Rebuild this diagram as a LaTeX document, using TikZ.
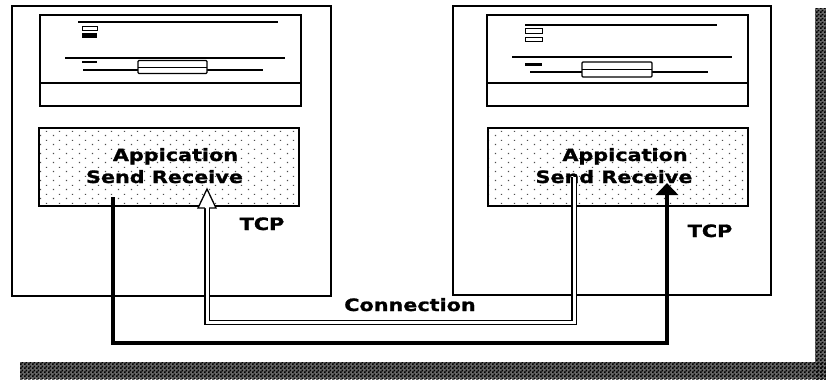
\documentclass[tikz,border=0pt]{standalone}
\usepackage{fontspec}
\newfontfamily\lblfont{DejaVu Sans}[FakeStretch=1.22, BoldFeatures={FakeBold=1.2}]
\usetikzlibrary{arrows.meta,patterns}

% dark dithered fill for the base and side bars
\pgfdeclarepatternformonly{finechecker}{\pgfpointorigin}{\pgfpoint{4pt}{4pt}}{\pgfpoint{4pt}{4pt}}%
{\pgfpathrectangle{\pgfpointorigin}{\pgfpoint{2pt}{2pt}}%
 \pgfpathrectangle{\pgfpoint{2pt}{2pt}}{\pgfpoint{2pt}{2pt}}%
 \pgfusepath{fill}}
% sparse stipple for the application layer
\pgfdeclarepatternformonly{stipple}{\pgfpointorigin}{\pgfpoint{13pt}{9pt}}{\pgfpoint{13pt}{9pt}}%
{\pgfpathrectangle{\pgfpoint{1pt}{1pt}}{\pgfpoint{1.3pt}{1.3pt}}%
 \pgfpathrectangle{\pgfpoint{7.5pt}{5.5pt}}{\pgfpoint{1.3pt}{1.3pt}}%
 \pgfusepath{fill}}

\tikzset{
  hostbox/.style={draw, line width=2pt},
  panel/.style={draw, line width=1.8pt},
  trim/.style={line width=1.4pt},
  slot/.style={draw, line width=1.2pt, rounded corners=1pt, fill=white},
  applayer/.style={draw, line width=2pt, pattern=stipple, pattern color=black!70,
                   minimum width=260pt, minimum height=78pt, inner sep=0pt},
  lbl/.style={font=\lblfont\bfseries\fontsize{17}{20}\selectfont, inner sep=0pt, anchor=base},
  sendline/.style={line width=4.5pt, -{Triangle[length=12pt,width=22pt]}},
  recvline/.style={line width=1.3pt, double=white, double distance=3pt},
  recvhead/.style={line width=1.3pt, fill=white, line join=miter},
  barbase/.style={fill=black!60},
  bar/.style={pattern=finechecker, pattern color=black},
}

\begin{document}
\begin{tikzpicture}[x=1pt,y=-1pt]
\useasboundingbox (0,0) rectangle (826,380);

% shaded base and side bars
\fill[barbase] (20,362) rectangle (826,379);
\fill[barbase] (815,8) rectangle (826,379);
\fill[bar] (20,362) rectangle (826,379);
\fill[bar] (815,8) rectangle (826,379);

% ---------- host A ----------
\node[hostbox, minimum width=319pt, minimum height=290pt, inner sep=0pt] (hostA) at (171.5,151) {};
\node[panel, minimum width=261pt, minimum height=91pt, inner sep=0pt] (driveA) at (170.5,60.5) {};
\draw[panel] (40,83) -- (301,83);
\draw[trim] (78,22) -- (278,22);
\draw[line width=1pt] (82,26) rectangle (97,30.5);
\fill (82,33) rectangle (97,37.5);
\draw[trim] (65,58) -- (285,58);
\fill (82,61) rectangle (97,63);
\draw[line width=2.4pt] (83,70) -- (263,70);
\node[slot, minimum width=69pt, minimum height=13pt, inner sep=0pt] (slotA) at (172.5,67) {};
\draw[line width=1pt] (138,67) -- (207,67);

\node[applayer] (appA) at (169,167) {};
\node[lbl] (appAtitle) at (175.5,161) {Appication};
\node[lbl] (appAsend) at (164.5,183) {Send Receive};
\node[lbl] (tcpA) at (262,230) {TCP};

% ---------- host B ----------
\node[hostbox, minimum width=318pt, minimum height=289pt, inner sep=0pt] (hostB) at (612,150.5) {};
\node[panel, minimum width=261pt, minimum height=91pt, inner sep=0pt] (driveB) at (617.5,60.5) {};
\draw[panel] (487,83) -- (748,83);
\draw[trim] (525,25) -- (717,25);
\draw[line width=1pt] (525,28.5) rectangle (542,33);
\draw[line width=1pt] (525,37) rectangle (542,41.5);
\draw[trim] (512,57) -- (732,57);
\fill (525,63) rectangle (542,65.5);
\draw[line width=2.4pt] (530,72) -- (708,72);
\node[slot, minimum width=70pt, minimum height=15pt, inner sep=0pt] (slotB) at (617,69.5) {};
\draw[line width=1pt] (582,69.5) -- (652,69.5);

\node[applayer] (appB) at (618,167) {};
\node[lbl] (appBtitle) at (625,161) {Appication};
\node[lbl] (appBsend) at (614,183) {Send Receive};
\node[lbl] (tcpB) at (710,237) {TCP};

% ---------- connection ----------
\coordinate (sendA) at (113,197);
\coordinate (recvB) at (667,183);
\coordinate (sendB) at (574,177);
\coordinate (recvAbase) at (207,208);
\coordinate (recvA) at (207,189);
\coordinate (sendlevel) at (0,343);
\coordinate (recvlevel) at (0,322.5);

\draw[sendline] (sendA) -- (sendA |- sendlevel) -- (recvB |- sendlevel) -- (recvB);
\draw[recvline] (sendB) -- (sendB |- recvlevel) -- (recvAbase |- recvlevel) -- (recvAbase);
\filldraw[recvhead] ([xshift=-2.15pt]recvAbase) -- ([xshift=-9pt]recvAbase)
  -- (recvA) -- ([xshift=9pt]recvAbase) -- ([xshift=2.15pt]recvAbase);

\node[lbl] (conn) at (410,311) {Connection};
\end{tikzpicture}
\end{document}
